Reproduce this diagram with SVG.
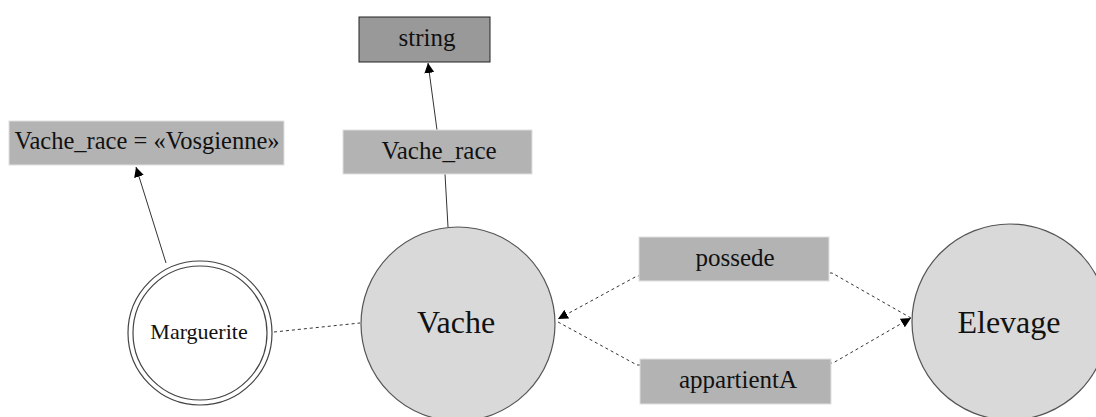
<svg xmlns="http://www.w3.org/2000/svg" width="1096" height="417" viewBox="0 0 1096 417">
<style>
.t{fill:#111;text-anchor:middle}
.lbl{fill:#b3b3b3;stroke:#e0e0e0;stroke-width:1}
.cls{fill:#d9d9d9;stroke:#555;stroke-width:1.2}
.solid{fill:none;stroke:#333;stroke-width:1}
.dash{fill:none;stroke:#333;stroke-width:1;stroke-dasharray:3,3}
</style>
<defs>
<marker id="ah" viewBox="0 0 10 10" refX="10" refY="5" markerWidth="10" markerHeight="10" markerUnits="userSpaceOnUse" orient="auto">
<path d="M0,0 L10,5 L0,10 z" fill="#000"/>
</marker>
</defs>
<g font-family="Liberation Serif, serif">
<g id="connectors">
<line class="solid" x1="166" y1="263" x2="136" y2="167" marker-end="url(#ah)"/>
<line class="solid" x1="448" y1="227" x2="445" y2="174"/>
<line class="solid" x1="437" y1="130" x2="428" y2="63" marker-end="url(#ah)"/>
<line class="dash" x1="274" y1="332" x2="360" y2="323"/>
<path class="dash" d="M911,318 L832,273 L637,276 L558,319" marker-end="url(#ah)"/>
<path class="dash" d="M558,322 L637,365 L833,363 L911,318" marker-end="url(#ah)"/>
</g>
<g id="Vache">
<circle class="cls" cx="458" cy="324" r="97"/>
<text class="t" x="456" y="333" font-size="32">Vache</text>
</g>
<g id="Elevage">
<circle class="cls" cx="1010" cy="322" r="98"/>
<text class="t" x="1009" y="333" font-size="32">Elevage</text>
</g>
<g id="Marguerite">
<circle cx="200" cy="333" r="72" fill="#fff" stroke="#444" stroke-width="1.2"/>
<circle cx="200" cy="333" r="67" fill="none" stroke="#444" stroke-width="1.2"/>
<text class="t" x="199" y="339" font-size="22">Marguerite</text>
</g>
<g id="VacheRaceValue">
<rect class="lbl" x="9" y="121" width="275" height="44"/>
<text class="t" x="147" y="149" font-size="24.5">Vache_race = «Vosgienne»</text>
</g>
<g id="Vache_race">
<rect class="lbl" x="343" y="130" width="189" height="44"/>
<text class="t" x="439" y="159" font-size="25">Vache_race</text>
</g>
<g id="string">
<rect x="359" y="17" width="131" height="45" fill="#999" stroke="#222" stroke-width="1"/>
<text class="t" x="427" y="46" font-size="25">string</text>
</g>
<g id="possede">
<rect class="lbl" x="639" y="237" width="190" height="44"/>
<text class="t" x="735" y="266" font-size="25">possede</text>
</g>
<g id="appartientA">
<rect class="lbl" x="640" y="359" width="191" height="45"/>
<text class="t" x="738" y="388" font-size="25">appartientA</text>
</g>
</g>
</svg>
